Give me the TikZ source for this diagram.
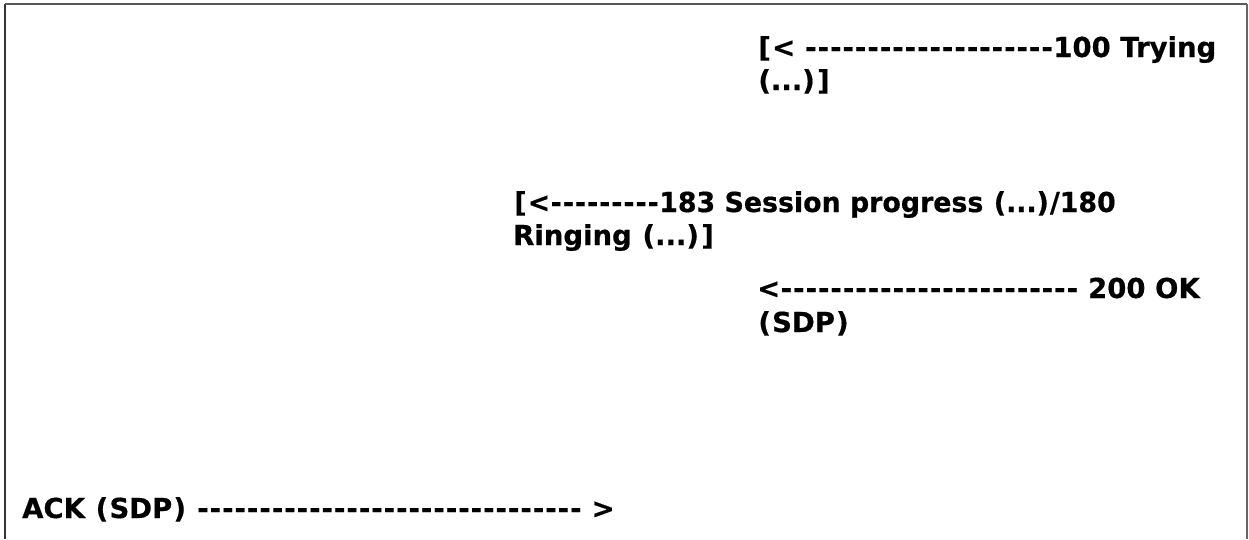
\documentclass[tikz,border=0pt]{standalone}
\usepackage{fontspec}
\usepackage{graphicx}
\setmainfont{DejaVu Sans}[BoldFeatures={FakeBold=0.6}]
\ExplSyntaxOn
\NewDocumentCommand\dashrun{m}{\prg_replicate:nn{#1}{\makebox[0.452em]{-}}}
\ExplSyntaxOff
\newcommand\myLP{\makebox[0.543em]{(}}
\newcommand\myRP{\makebox[0.543em]{)}}
\newcommand\myLB{\makebox[0.543em]{[}}
\newcommand\myRB{\makebox[0.543em]{]}}
\newcommand\myDots{\makebox[1.05em]{.\hfil.\hfil.}}
\begin{document}
\begin{tikzpicture}[x=1pt,y=-1pt,
  msg/.style={anchor=base west, inner sep=0pt, font=\fontsize{27.5}{34}\selectfont\bfseries},
  frameleft/.style={draw=black!80, line width=2.5pt},
  frametop/.style={draw=black!65, line width=2pt},
  frameright/.style={draw=black!60, line width=1.5pt}]
\useasboundingbox (0,0) rectangle (1249,539);
\coordinate (bl) at (5,539);
\coordinate (tl) at (5,4);
\coordinate (tr) at (1247,4);
\coordinate (br) at (1247,539);
\draw[frameleft] (bl) -- (tl);
\draw[frametop] (tl) -- (tr);
\draw[frameright] (tr) -- (br);
\node[msg] (t1a) at (757,57) {\myLB< \dashrun{20}100 Trying};
\node[msg] (t1b) at (757,90) {\myLP\myDots\myRP\myRB};
\node[msg] (t2a) at (513,212) {\scalebox{0.975}[1]{\myLB<\dashrun{9}183 Session progress \myLP\myDots\myRP/180}};
\node[msg] (t2b) at (513,245) {Ringing \myLP\myDots\myRP\myRB};
\node[msg] (t3a) at (757,298) {<\dashrun{24} 200 OK};
\node[msg] (t3b) at (757,332) {\myLP SDP\myRP};
\node[msg] (t4) at (22,518) {ACK \myLP SDP\myRP{} \dashrun{31} >};
\end{tikzpicture}
\end{document}
